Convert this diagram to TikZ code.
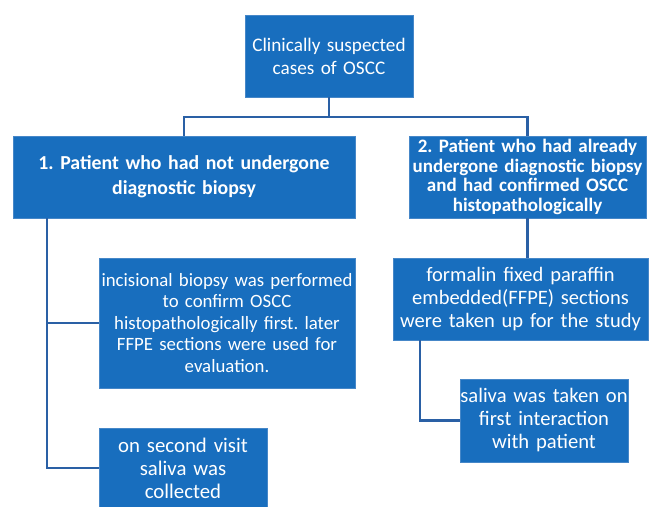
\documentclass[tikz,border=0pt]{standalone}
\usepackage{fontspec}
\setmainfont{Carlito}
\usepackage{tikz}
\usetikzlibrary{positioning, calc}
\definecolor{BoxBlue}{RGB}{24,110,190}
\definecolor{BoxEdge}{RGB}{70,135,200}
\definecolor{LinkBlue}{RGB}{42,96,165}
\tikzset{
  flowbox/.style={draw=BoxEdge, fill=BoxBlue, text=white, align=center, inner sep=0pt, line width=0.8pt},
  link/.style={draw=LinkBlue, line width=2.2pt}
}
\newcommand{\boxfont}[2]{\fontsize{#1}{#2}\selectfont}
\frenchspacing

\begin{document}
\begin{tikzpicture}[x=1pt, y=-1pt]
          \useasboundingbox[fill=white] (0,0) rectangle (650,506);
          % boxes
          \node[flowbox, minimum width=168pt, text width=168pt, minimum height=82pt, font=\boxfont{19.2}{23}] (suspect) at (329,56) {Clinically suspected\\cases of OSCC};
          \node[flowbox, minimum width=342pt, text width=342pt, minimum height=82pt, font=\boxfont{19.8}{25}\bfseries] (notbiopsy) at (184,177) {1. Patient who had not undergone\\diagnostic biopsy};
          \node[flowbox, minimum width=237pt, text width=237pt, minimum height=82pt, font=\boxfont{19}{19.4}\bfseries] (biopsy) at (527.5,177) {2. Patient who had already\\undergone diagnostic biopsy\\and had confirmed OSCC\\histopathologically};
          \node[flowbox, minimum width=256pt, text width=256pt, minimum height=130pt, font=\boxfont{18.8}{21.5}] (incision) at (227,323) {incisional biopsy was performed\\to confirm OSCC\\histopathologically first. later\\FFPE sections were used for\\evaluation.};
          \node[flowbox, minimum width=168pt, text width=168pt, minimum height=80pt, font=\boxfont{20.8}{23}] (secvisit) at (183,468) {on second visit\\saliva was\\collected};
          \node[flowbox, minimum width=255pt, text width=255pt, minimum height=82pt, font=\boxfont{20.5}{23.3}] (ffpe) at (520.5,299) {formalin fixed paraffin\\embedded(FFPE) sections\\were taken up for the study};
          \node[flowbox, minimum width=168pt, text width=168pt, minimum height=83pt, font=\boxfont{20.6}{23}] (firstvisit) at (544,420.5) {saliva was taken on\\first interaction\\with patient};
          % connectors
          \coordinate (split) at (suspect.south |- 0,117);
          \draw[link] (suspect.south) -- (split);
          \draw[link] (split) -| (notbiopsy.north);
          \draw[link] (split) -| (biopsy.north);
          \draw[link] ([xshift=34pt]notbiopsy.south west) |- (incision.west);
          \draw[link] ([xshift=34pt]notbiopsy.south west) |- (secvisit.west);
          \draw[link] (biopsy.south) -- (biopsy.south |- ffpe.north);
          \draw[link] ([xshift=27pt]ffpe.south west) |- (firstvisit.west);
        \end{tikzpicture}
\end{document}
